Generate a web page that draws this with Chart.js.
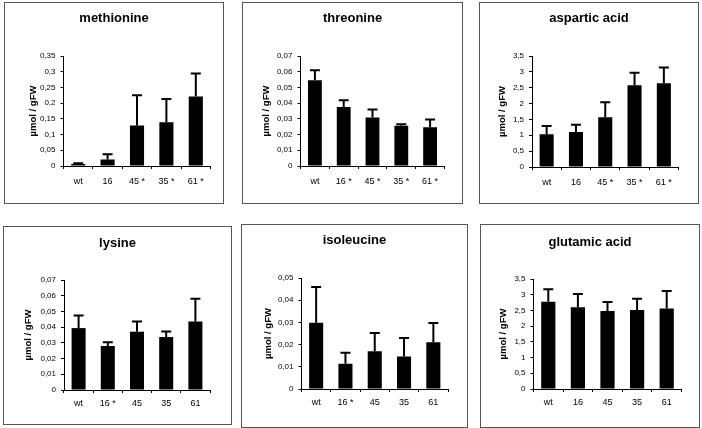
<!DOCTYPE html>
<html><head><meta charset="utf-8">
<script src="https://cdn.jsdelivr.net/npm/chart.js@4.4.1/dist/chart.umd.min.js"></script>
<style>
html,body{margin:0;padding:0;background:#fff;width:702px;height:428px;overflow:hidden;position:relative;}
.panel{position:absolute;border:1px solid #555;background:#fff;}
.panel canvas{display:block;}
</style></head><body>
<script>
// ---- data ----
const yAxisTitle = 'µmol / gFW';

const methionineLabels = ['wt', '16', '45 *', '35 *', '61 *'];
const methionineMeans  = [0.006, 0.021, 0.129, 0.139, 0.221];
const methionineErrors = [0.003, 0.016, 0.096, 0.074, 0.073];

const threonineLabels = ['wt', '16 *', '45 *', '35 *', '61 *'];
const threonineMeans  = [0.0546, 0.0376, 0.0309, 0.0256, 0.0247];
const threonineErrors = [0.0063, 0.0043, 0.0051, 0.0010, 0.0049];

const asparticLabels = ['wt', '16', '45 *', '35 *', '61 *'];
const asparticMeans  = [1.03, 1.10, 1.57, 2.58, 2.64];
const asparticErrors = [0.26, 0.23, 0.47, 0.39, 0.50];

const lysineLabels = ['wt', '16 *', '45', '35', '61'];
const lysineMeans  = [0.0394, 0.0280, 0.0371, 0.0337, 0.0436];
const lysineErrors = [0.0080, 0.0024, 0.0065, 0.0036, 0.0144];

const isoleucineLabels = ['wt', '16 *', '45', '35', '61'];
const isoleucineMeans  = [0.0298, 0.0114, 0.0170, 0.0146, 0.0211];
const isoleucineErrors = [0.0161, 0.0049, 0.0082, 0.0084, 0.0086];

const glutamicLabels = ['wt', '16', '45', '35', '61'];
const glutamicMeans  = [2.78, 2.60, 2.48, 2.51, 2.56];
const glutamicErrors = [0.39, 0.42, 0.29, 0.36, 0.56];

// y-axis ranges (max, step)
const methionineAxis = [0.35, 0.05];
const threonineAxis  = [0.07, 0.01];
const asparticAxis   = [3.5, 0.5];
const lysineAxis     = [0.07, 0.01];
const isoleucineAxis = [0.05, 0.01];
const glutamicAxis   = [3.5, 0.5];

// ---- layout (positions only) ----
const FONT = "'Liberation Sans', Arial, Helvetica, sans-serif";
const panels = [
  {title:'methionine',    labels:methionineLabels, means:methionineMeans, errs:methionineErrors, axis:methionineAxis,
   box:[4,2,223,203],   plot:[63.5,210.5,56,166], titleY:18, yTitleX:33, gap:16},
  {title:'threonine',     labels:threonineLabels,  means:threonineMeans,  errs:threonineErrors,  axis:threonineAxis,
   box:[242,2,462,203], plot:[300.5,444.5,56,166], titleY:18, yTitleX:266, gap:16},
  {title:'aspartic acid', labels:asparticLabels,   means:asparticMeans,   errs:asparticErrors,   axis:asparticAxis,
   box:[479,2,698,203], plot:[532,678.5,56,167], titleY:18, yTitleX:502, gap:16},
  {title:'lysine',        labels:lysineLabels,     means:lysineMeans,     errs:lysineErrors,     axis:lysineAxis,
   box:[3,226,231,424], plot:[64,210,280,390], titleY:243, yTitleX:28, gap:14},
  {title:'isoleucine',    labels:isoleucineLabels, means:isoleucineMeans, errs:isoleucineErrors, axis:isoleucineAxis,
   box:[241,224,467,427], plot:[301.5,448,278,389], titleY:240, yTitleX:268, gap:14},
  {title:'glutamic acid', labels:glutamicLabels,   means:glutamicMeans,   errs:glutamicErrors,   axis:glutamicAxis,
   box:[480,224,699,427], plot:[533.5,681.5,279,389], titleY:242, yTitleX:503, gap:14}
];

const errorBarPlugin = {
  id: 'errbars',
  afterDatasetsDraw(chart) {
    const ds = chart.data.datasets[0];
    const meta = chart.getDatasetMeta(0);
    const ys = chart.scales.y;
    const ctx = chart.ctx;
    ctx.save();
    ctx.strokeStyle = '#000';
    ctx.lineWidth = 2;
    meta.data.forEach((bar, i) => {
      const top = ys.getPixelForValue(ds.data[i] + ds.errors[i]);
      const base = ys.getPixelForValue(ds.data[i]);
      ctx.beginPath();
      ctx.moveTo(bar.x, base);
      ctx.lineTo(bar.x, top);
      ctx.moveTo(bar.x - 5, top);
      ctx.lineTo(bar.x + 5, top);
      ctx.stroke();
    });
    ctx.restore();
  }
};

const panelTitlePlugin = {
  id: 'panelTitle',
  afterDraw(chart, args, opts) {
    const ctx = chart.ctx;
    ctx.save();
    ctx.fillStyle = '#000';
    ctx.font = 'bold 13px ' + FONT;
    ctx.textAlign = 'center';
    ctx.textBaseline = 'middle';
    ctx.fillText(opts.text, chart.width / 2, opts.y);
    ctx.restore();
  }
};

const fmt = v => String(Math.round(v * 1000) / 1000).replace('.', ',');

panels.forEach(p => {
  const [bl, bt, br, bb] = p.box;
  const [pl, pr, pt, pb] = p.plot;
  const cw = br - bl - 1, ch = bb - bt - 1;
  const ox = bl + 1, oy = bt + 1;
  const div = document.createElement('div');
  div.className = 'panel';
  div.style.left = bl + 'px'; div.style.top = bt + 'px';
  div.style.width = cw + 'px'; div.style.height = ch + 'px';
  const cv = document.createElement('canvas');
  cv.width = cw; cv.height = ch;
  cv.style.width = cw + 'px'; cv.style.height = ch + 'px';
  div.appendChild(cv);
  document.body.appendChild(div);

  const yW = pl - ox;
  const xH = ch - (pb - oy);
  const padRight = cw - (pr - ox);
  const padTop = pt - oy;
  const yTitleLH = 9.5 * 1.2;
  const yTitlePad = (p.yTitleX - ox) - yTitleLH / 2;
  const xLabLH = 9 * 1.2;

  new Chart(cv, {
    type: 'bar',
    data: {
      labels: p.labels,
      datasets: [{
        data: p.means,
        errors: p.errs,
        backgroundColor: '#000',
        borderWidth: 0,
        barPercentage: 0.48,
        categoryPercentage: 1.0
      }]
    },
    options: {
      responsive: false,
      devicePixelRatio: 1,
      animation: false,
      layout: {padding: {left: 0, top: padTop, right: padRight, bottom: 0}},
      plugins: {
        legend: {display: false},
        tooltip: {enabled: false},
        title: {display: false},
        panelTitle: {text: p.title, y: p.titleY - oy}
      },
      scales: {
        x: {
          offset: true,
          grid: {display: true, offset: true, drawOnChartArea: false, drawTicks: true, tickLength: 3, color: '#000'},
          border: {display: true, color: '#000', width: 1},
          ticks: {font: {family: FONT, size: 9}, color: '#000', padding: p.gap - 3 - xLabLH / 2, maxRotation: 0, autoSkip: false},
          afterFit: s => { s.height = xH; }
        },
        y: {
          min: 0, max: p.axis[0],
          ticks: {stepSize: p.axis[1], font: {family: FONT, size: 8}, color: '#000', padding: 5, callback: fmt},
          grid: {display: true, drawOnChartArea: false, drawTicks: true, tickLength: 3, color: '#000'},
          border: {display: true, color: '#000', width: 1},
          title: {display: true, text: yAxisTitle, color: '#000',
                  font: {family: FONT, size: 9.5, weight: 'bold', lineHeight: 1.2},
                  padding: {top: yTitlePad, bottom: 0}},
          afterFit: s => { s.width = yW; }
        }
      }
    },
    plugins: [errorBarPlugin, panelTitlePlugin]
  });
});
</script>
</body></html>
